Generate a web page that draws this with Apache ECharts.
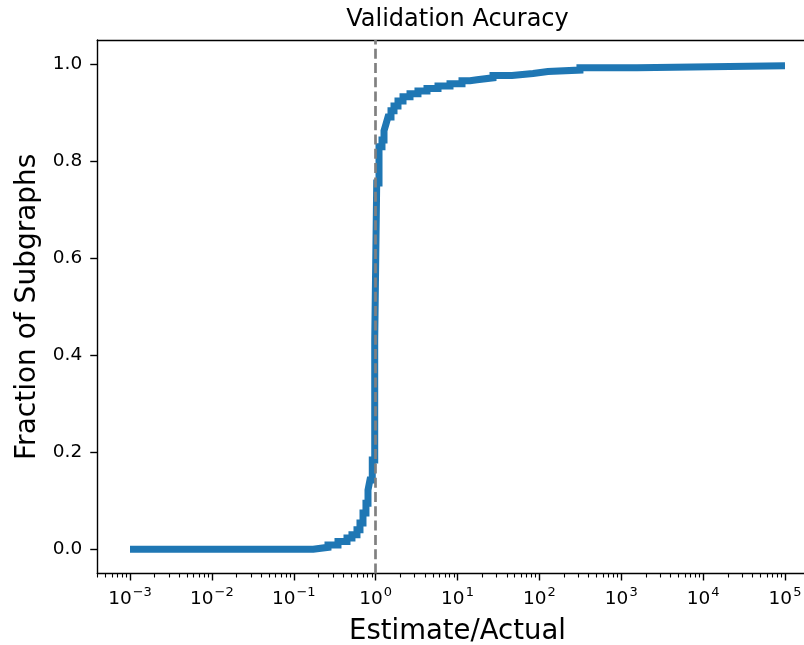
<!DOCTYPE html>
<html><head><meta charset="utf-8">
<script src="https://cdn.jsdelivr.net/npm/echarts@6/dist/echarts.min.js"></script>
<style>html,body{margin:0;padding:0;background:#fff;overflow:hidden}#c{width:804px;height:645px}</style>
</head><body><div id="c"></div>
<script>
// Data (CDF of Estimate/Actual ratio)
const ratio = [0.001, 0.173, 0.262, 0.347, 0.447, 0.514, 0.592, 0.644, 0.701, 0.762, 0.807, 0.853, 0.910, 0.975, 1.031, 1.10, 1.196, 1.266, 1.339, 1.416, 1.541, 1.677, 1.876, 2.16, 2.63, 3.29, 4.24, 5.78, 8.10, 11.35, 14.22, 17.31, 27.15, 46.3, 83.6, 127, 313, 1556, 100000];
const fraction = [0.0, 0.004, 0.009, 0.016, 0.023, 0.030, 0.040, 0.054, 0.075, 0.095, 0.122, 0.143, 0.184, 0.432, 0.755, 0.830, 0.844, 0.863, 0.877, 0.891, 0.904, 0.914, 0.924, 0.933, 0.939, 0.945, 0.950, 0.955, 0.960, 0.966, 0.968, 0.972, 0.977, 0.981, 0.985, 0.988, 0.993, 0.997, 0.997];
const xTickExponents = [-3, -2, -1, 0, 1, 2, 3, 4, 5];
const yTicks = [0.0, 0.2, 0.4, 0.6, 0.8, 1.0];
const referenceRatio = 1;
const titleText = 'Validation Acuracy';
const xName = 'Estimate/Actual';
const yName = 'Fraction of Subgraphs';

const FONT = 'DejaVu Sans';
const xMin = -3.4, xMax = 5.4;
const minorTicks = [];
for (let e = -4; e <= 5; e++) for (let k = 2; k <= 9; k++) {
  const v = e + Math.log10(k);
  if (v > xMin && v < xMax) minorTicks.push(v);
}
const seriesData = ratio.map((r, i) => [Math.log10(r), fraction[i]]);

const chart = echarts.init(document.getElementById('c'), null, {renderer: 'canvas'});
chart.setOption({
  animation: false,
  backgroundColor: '#fff',
  textStyle: {fontFamily: FONT},
  grid: {left: 97.25, right: -13.75, top: 40, bottom: 71.5, show: false, containLabel: false, outerBoundsMode: 'none'},
  graphic: [{
    type: 'text', x: 457.5, y: 8,
    style: {text: titleText, fontFamily: FONT, fontSize: 24, fill: '#000', textAlign: 'center', textVerticalAlign: 'top'}
  }],
  xAxis: [{
    type: 'value', min: xMin, max: xMax, position: 'bottom',
    name: xName, nameLocation: 'middle', nameGap: 44,
    nameTextStyle: {fontFamily: FONT, fontSize: 27.5, color: '#000'},
    splitLine: {show: false},
    axisLine: {show: true, onZero: false, lineStyle: {color: '#000', width: 1.4}},
    axisTick: {show: true, customValues: xTickExponents, length: 7, lineStyle: {color: '#000', width: 1.4}},
    axisLabel: {
      customValues: xTickExponents, margin: 13, color: '#000',
      formatter: v => '{b|10}{s|' + (v < 0 ? '\u2212' + (-v) : String(v)) + '}',
      rich: {
        b: {fontFamily: FONT, fontSize: 18.5, color: '#000', lineHeight: 22, verticalAlign: 'bottom'},
        s: {fontFamily: FONT, fontSize: 13, color: '#000', lineHeight: 22, verticalAlign: 'bottom', padding: [0, 0, 9, 1]}
      }
    }
  }, {
    type: 'value', min: xMin, max: xMax, position: 'bottom', gridIndex: 0,
    splitLine: {show: false},
    axisLine: {show: false, onZero: false},
    axisTick: {show: true, customValues: minorTicks, length: 4, lineStyle: {color: '#000', width: 1.1}},
    axisLabel: {show: false}
  }, {
    type: 'value', min: xMin, max: xMax, position: 'top', gridIndex: 0,
    splitLine: {show: false},
    axisLine: {show: true, onZero: false, lineStyle: {color: '#000', width: 1.4}},
    axisTick: {show: false},
    axisLabel: {show: false}
  }],
  yAxis: {
    type: 'value', min: -0.05, max: 1.05,
    name: yName, nameLocation: 'middle', nameGap: 49, nameRotate: 90,
    nameTextStyle: {fontFamily: FONT, fontSize: 28, color: '#000'},
    splitLine: {show: false},
    axisLine: {show: true, onZero: false, lineStyle: {color: '#000', width: 1.4}},
    axisTick: {show: true, customValues: yTicks, length: 7, lineStyle: {color: '#000', width: 1.4}},
    axisLabel: {customValues: yTicks, margin: 15, color: '#000', fontFamily: FONT, fontSize: 18.5, formatter: v => v.toFixed(1)}
  },
  series: [{
    type: 'line', xAxisIndex: 0, yAxisIndex: 0,
    data: seriesData, step: 'end', showSymbol: false, symbol: 'none',
    lineStyle: {color: '#1f77b4', width: 7, cap: 'butt', join: 'miter'},
    z: 2,
    markLine: {
      silent: true, symbol: 'none', label: {show: false},
      lineStyle: {color: '#808080', width: 2.7, type: [10, 4.3]},
      data: [{xAxis: Math.log10(referenceRatio)}],
      z: 5
    }
  }]
});
</script></body></html>
